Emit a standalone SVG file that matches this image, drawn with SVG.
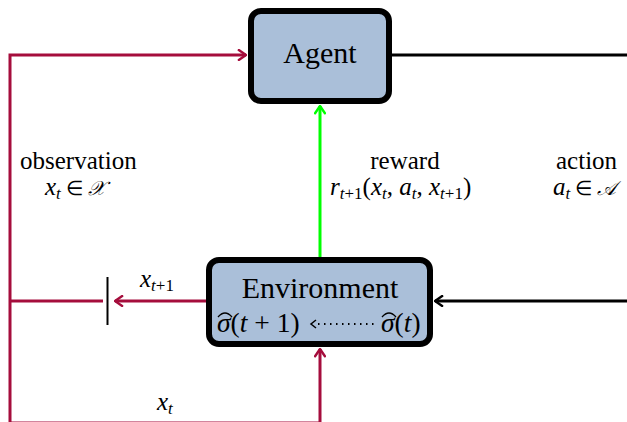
<svg xmlns="http://www.w3.org/2000/svg" width="627" height="422" viewBox="0 0 627 422">
<style>
.box{fill:#aabfd9;stroke:#000;stroke-width:6}
.red{stroke:#a50d3c;stroke-width:3;fill:none}
.blk{stroke:#000;stroke-width:3;fill:none}
.grn{stroke:#00ff00;stroke-width:3;fill:none}
.it{font-style:italic}
.sub{font-size:17px}
.sym{font-size:20px}
</style>
<defs>
<marker id="ar" viewBox="0 0 10 10" refX="9" refY="5" markerWidth="4" markerHeight="4" orient="auto" markerUnits="strokeWidth">
<path d="M3,0.9 L9,5 L3,9.1" fill="none" stroke="#a50d3c" stroke-width="2" stroke-linecap="round" stroke-linejoin="round"/>
</marker>
<marker id="ab" viewBox="0 0 10 10" refX="9" refY="5" markerWidth="4" markerHeight="4" orient="auto" markerUnits="strokeWidth">
<path d="M3,0.9 L9,5 L3,9.1" fill="none" stroke="#000" stroke-width="2" stroke-linecap="round" stroke-linejoin="round"/>
</marker>
<marker id="ag" viewBox="0 0 10 10" refX="9" refY="5" markerWidth="4" markerHeight="4" orient="auto" markerUnits="strokeWidth">
<path d="M3,0.9 L9,5 L3,9.1" fill="none" stroke="#00ff00" stroke-width="2" stroke-linecap="round" stroke-linejoin="round"/>
</marker>
</defs>
<g id="connectors">
<path class="red" d="M320,423 L10,423 L10,55 L246,55" marker-end="url(#ar)"/>
<path class="red" d="M320,423 L320,349" marker-end="url(#ar)"/>
<path class="red" d="M10,301 L103,301"/>
<path class="red" d="M206,301 L115,301" marker-end="url(#ar)"/>
<line x1="107.5" y1="277" x2="107.5" y2="325" stroke="#000" stroke-width="2"/>
<path class="blk" d="M392,55 L627,55"/>
<path class="blk" d="M627,301 L435,301" marker-end="url(#ab)"/>
<path class="grn" d="M320,257 L320,106" marker-end="url(#ag)"/>
</g>
<g id="agent">
<rect class="box" x="251" y="11" width="138" height="90" rx="10"/>
<text x="320" y="63" font-size="30" text-anchor="middle" font-family="Liberation Serif, serif">Agent</text>
</g>
<g id="environment">
<rect class="box" x="209" y="260" width="221" height="84" rx="10"/>
<text x="320" y="298" font-size="30" text-anchor="middle" font-family="Liberation Serif, serif">Environment</text>
<text x="217" y="332" font-size="27.5" font-family="Liberation Serif, serif"><tspan class="it">σ</tspan>(<tspan class="it">t</tspan> + 1)</text>
<path d="M218,317 Q225,309 232,317" fill="none" stroke="#000" stroke-width="1.3"/>
<line x1="318" y1="324" x2="375" y2="324" stroke="#000" stroke-width="2" stroke-dasharray="1.5 4.5"/>
<path d="M316,320 L311,324 L316,328" fill="none" stroke="#000" stroke-width="1.5"/>
<text x="381" y="332" font-size="27.5" font-family="Liberation Serif, serif"><tspan class="it">σ</tspan>(<tspan class="it">t</tspan>)</text>
<path d="M382,317 Q389,309 396,317" fill="none" stroke="#000" stroke-width="1.3"/>
</g>
<g id="labels">
<text x="20" y="169" font-size="25" font-family="Liberation Serif, serif">observation</text>
<text x="45" y="195" font-size="25" font-family="Liberation Serif, serif"><tspan class="it">x</tspan><tspan class="it sub" dy="4">t</tspan><tspan class="sym" dy="-4"> ∈ </tspan><tspan class="it sym">𝒳</tspan></text>
<text x="405" y="169" font-size="25" text-anchor="middle" font-family="Liberation Serif, serif">reward</text>
<text x="330" y="195" font-size="25" font-family="Liberation Serif, serif"><tspan class="it">r</tspan><tspan class="it sub" dy="4">t</tspan><tspan class="sub">+1</tspan><tspan dy="-4">(</tspan><tspan class="it">x</tspan><tspan class="it sub" dy="4">t</tspan><tspan dy="-4">, </tspan><tspan class="it">a</tspan><tspan class="it sub" dy="4">t</tspan><tspan dy="-4">, </tspan><tspan class="it">x</tspan><tspan class="it sub" dy="4">t</tspan><tspan class="sub">+1</tspan><tspan dy="-4">)</tspan></text>
<text x="556" y="169" font-size="25" font-family="Liberation Serif, serif">action</text>
<text x="553" y="195" font-size="25" font-family="Liberation Serif, serif"><tspan class="it">a</tspan><tspan class="it sub" dy="4">t</tspan><tspan class="sym" dy="-4"> ∈ </tspan><tspan class="it sym">𝒜</tspan></text>
<text x="140" y="287" font-size="25" font-family="Liberation Serif, serif"><tspan class="it">x</tspan><tspan class="it sub" dy="4">t</tspan><tspan class="sub">+1</tspan></text>
<text x="157" y="410" font-size="25" font-family="Liberation Serif, serif"><tspan class="it">x</tspan><tspan class="it sub" dy="4">t</tspan></text>
</g>
</svg>
